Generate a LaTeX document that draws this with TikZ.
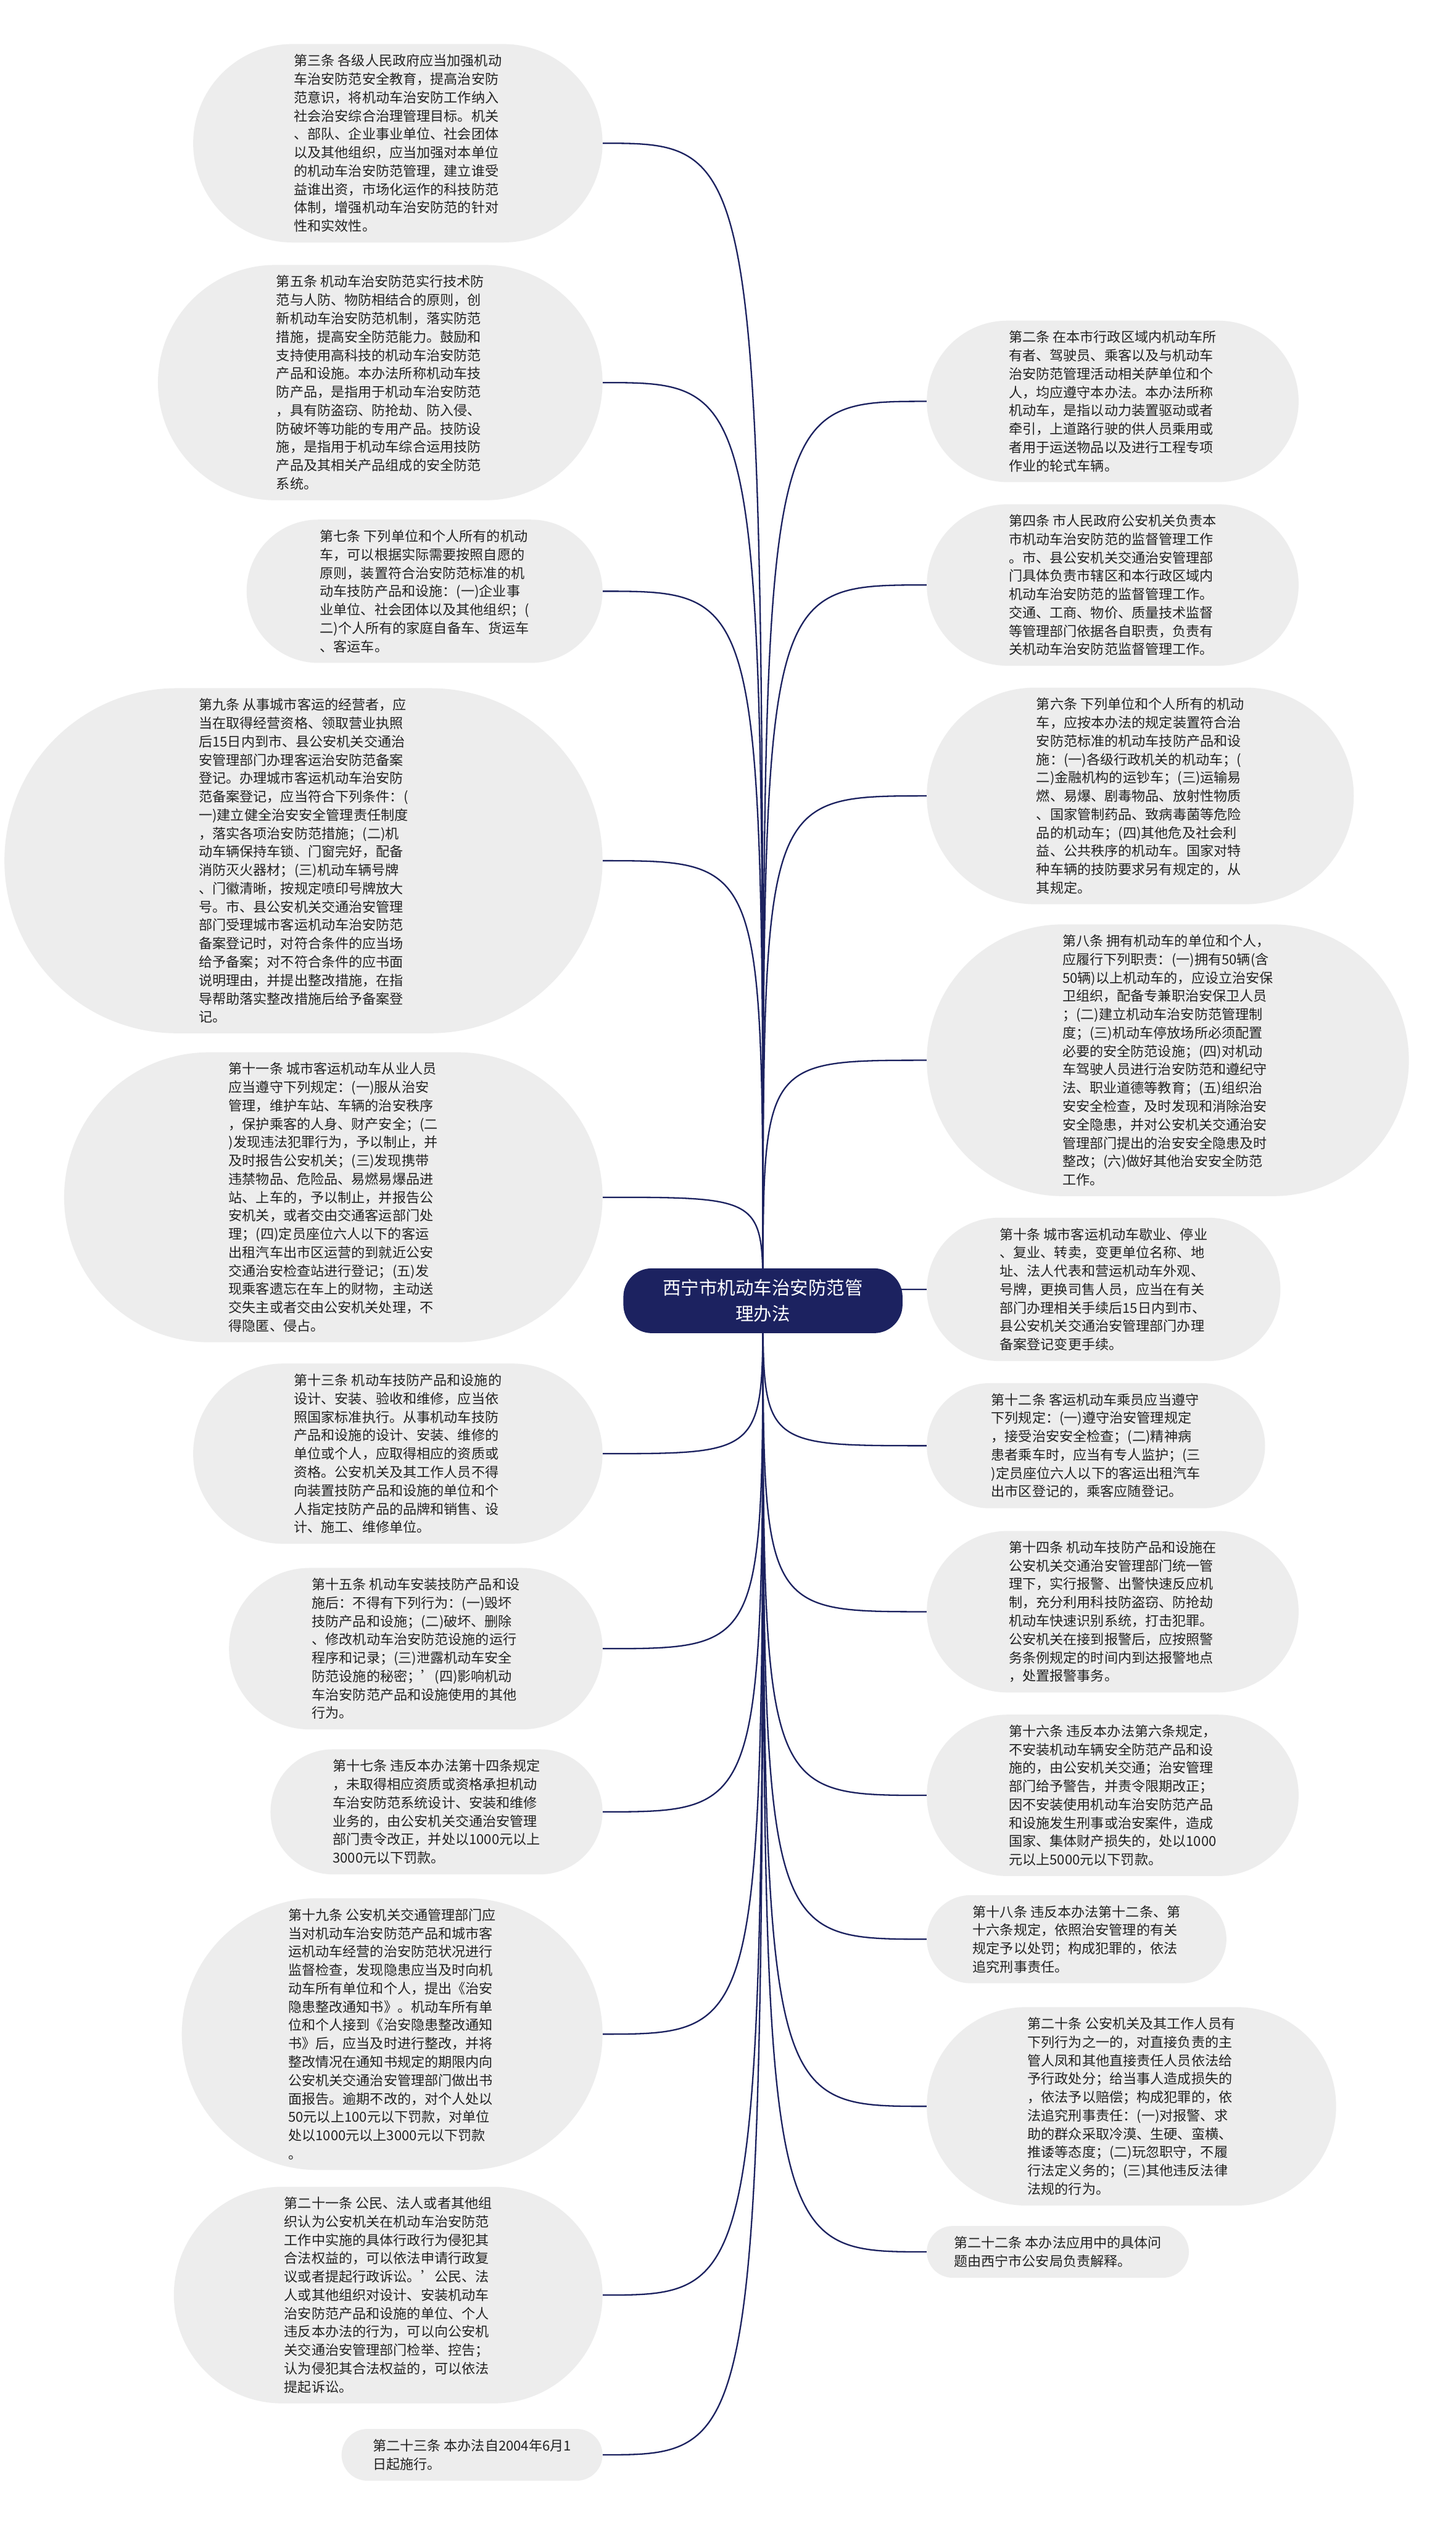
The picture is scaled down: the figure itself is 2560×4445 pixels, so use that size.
\documentclass[tikz,border=0pt]{standalone}
\usepackage{fontspec}
\usetikzlibrary{backgrounds}
\newfontfamily\zhfont{Noto Sans CJK SC}
\definecolor{rootblue}{HTML}{1C2260}
\definecolor{leafgray}{HTML}{EDEDED}
\definecolor{leaftext}{HTML}{222222}
\tikzset{
    node style root/.style={rectangle,rounded corners=50pt,fill=rootblue,text=white,align=center,
        minimum width=491pt,minimum height=114pt,font=\fontsize{32}{46}\selectfont\zhfont},
    node style leaf/.style 2 args={rectangle,fill=leafgray,text=leaftext,align=left,inner sep=0pt,
        minimum width=#1pt,minimum height=#2pt,rounded corners=#2pt/2,
        font=\fontsize{24}{32.3}\selectfont\zhfont},
    line style link/.style={draw=rootblue,line width=2.5pt},
}

\begin{document}
\begin{tikzpicture}[x=1pt,y=-1pt]
\useasboundingbox (0,0) rectangle (2560,4445);

\node[node style root] (measures) at (1342,2288) {西宁市机动车治安防范管\\理办法};

% left side
\node[node style leaf={720}{349},anchor=east] (art3) at (1060,252) {第三条 各级人民政府应当加强机动\\车治安防范安全教育，提高治安防\\范意识，将机动车治安防工作纳入\\社会治安综合治理管理目标。机关\\、部队、企业事业单位、社会团体\\以及其他组织，应当加强对本单位\\的机动车治安防范管理，建立谁受\\益谁出资，市场化运作的科技防范\\体制，增强机动车治安防范的针对\\性和实效性。};
\node[node style leaf={782}{414},anchor=east] (art5) at (1060,673) {第五条 机动车治安防范实行技术防\\范与人防、物防相结合的原则，创\\新机动车治安防范机制，落实防范\\措施，提高安全防范能力。鼓励和\\支持使用高科技的机动车治安防范\\产品和设施。本办法所称机动车技\\防产品，是指用于机动车治安防范\\，具有防盗窃、防抢劫、防入侵、\\防破坏等功能的专用产品。技防设\\施，是指用于机动车综合运用技防\\产品及其相关产品组成的安全防范\\系统。};
\node[node style leaf={626}{252},anchor=east] (art7) at (1060,1040) {第七条 下列单位和个人所有的机动\\车，可以根据实际需要按照自愿的\\原则，装置符合治安防范标准的机\\动车技防产品和设施：(一)企业事\\业单位、社会团体以及其他组织；(\\二)个人所有的家庭自备车、货运车\\、客运车。};
\node[node style leaf={1052}{607},anchor=east] (art9) at (1060,1514) {第九条 从事城市客运的经营者，应\\当在取得经营资格、领取营业执照\\后15日内到市、县公安机关交通治\\安管理部门办理客运治安防范备案\\登记。办理城市客运机动车治安防\\范备案登记，应当符合下列条件：(\\一)建立健全治安安全管理责任制度\\，落实各项治安防范措施；(二)机\\动车辆保持车锁、门窗完好，配备\\消防灭火器材；(三)机动车辆号牌\\、门徽清晰，按规定喷印号牌放大\\号。市、县公安机关交通治安管理\\部门受理城市客运机动车治安防范\\备案登记时，对符合条件的应当场\\给予备案；对不符合条件的应书面\\说明理由，并提出整改措施，在指\\导帮助落实整改措施后给予备案登\\记。};
\node[node style leaf={947}{510},anchor=east] (art11) at (1060,2106) {第十一条 城市客运机动车从业人员\\应当遵守下列规定：(一)服从治安\\管理，维护车站、车辆的治安秩序\\，保护乘客的人身、财产安全；(二\\)发现违法犯罪行为，予以制止，并\\及时报告公安机关；(三)发现携带\\违禁物品、危险品、易燃易爆品进\\站、上车的，予以制止，并报告公\\安机关，或者交由交通客运部门处\\理；(四)定员座位六人以下的客运\\出租汽车出市区运营的到就近公安\\交通治安检查站进行登记；(五)发\\现乘客遗忘在车上的财物，主动送\\交失主或者交由公安机关处理，不\\得隐匿、侵占。};
\node[node style leaf={720}{317},anchor=east] (art13) at (1060,2557) {第十三条 机动车技防产品和设施的\\设计、安装、验收和维修，应当依\\照国家标准执行。从事机动车技防\\产品和设施的设计、安装、维修的\\单位或个人，应取得相应的资质或\\资格。公安机关及其工作人员不得\\向装置技防产品和设施的单位和个\\人指定技防产品的品牌和销售、设\\计、施工、维修单位。};
\node[node style leaf={657}{284},anchor=east] (art15) at (1060,2900) {第十五条 机动车安装技防产品和设\\施后：不得有下列行为：(一)毁坏\\技防产品和设施；(二)破坏、删除\\、修改机动车治安防范设施的运行\\程序和记录；(三)泄露机动车安全\\防范设施的秘密；’(四)影响机动\\车治安防范产品和设施使用的其他\\行为。};
\node[node style leaf={584}{220},anchor=east] (art17) at (1060,3187) {第十七条 违反本办法第十四条规定\\，未取得相应资质或资格承担机动\\车治安防范系统设计、安装和维修\\业务的，由公安机关交通治安管理\\部门责令改正，并处以1000元以上\\3000元以下罚款。};
\node[node style leaf={740}{478},anchor=east] (art19) at (1060,3578) {第十九条 公安机关交通管理部门应\\当对机动车治安防范产品和城市客\\运机动车经营的治安防范状况进行\\监督检查，发现隐患应当及时向机\\动车所有单位和个人，提出《治安\\隐患整改通知书》。机动车所有单\\位和个人接到《治安隐患整改通知\\书》后，应当及时进行整改，并将\\整改情况在通知书规定的期限内向\\公安机关交通治安管理部门做出书\\面报告。逾期不改的，对个人处以\\50元以上100元以下罚款，对单位\\处以1000元以上3000元以下罚款\\。};
\node[node style leaf={754}{381},anchor=east] (art21) at (1060,4037) {第二十一条 公民、法人或者其他组\\织认为公安机关在机动车治安防范\\工作中实施的具体行政行为侵犯其\\合法权益的，可以依法申请行政复\\议或者提起行政诉讼。’公民、法\\人或其他组织对设计、安装机动车\\治安防范产品和设施的单位、个人\\违反本办法的行为，可以向公安机\\关交通治安管理部门检举、控告；\\认为侵犯其合法权益的，可以依法\\提起诉讼。};
\node[node style leaf={459}{91},anchor=east] (art23) at (1060,4318) {第二十三条 本办法自2004年6月1\\日起施行。};

% right side
\node[node style leaf={654}{284},anchor=west] (art2) at (1630,706) {第二条 在本市行政区域内机动车所\\有者、驾驶员、乘客以及与机动车\\治安防范管理活动相关萨单位和个\\人，均应遵守本办法。本办法所称\\机动车，是指以动力装置驱动或者\\牵引，上道路行驶的供人员乘用或\\者用于运送物品以及进行工程专项\\作业的轮式车辆。};
\node[node style leaf={654}{284},anchor=west] (art4) at (1630,1029) {第四条 市人民政府公安机关负责本\\市机动车治安防范的监督管理工作\\。市、县公安机关交通治安管理部\\门具体负责市辖区和本行政区域内\\机动车治安防范的监督管理工作。\\交通、工商、物价、质量技术监督\\等管理部门依据各自职责，负责有\\关机动车治安防范监督管理工作。};
\node[node style leaf={751}{381},anchor=west] (art6) at (1630,1400) {第六条 下列单位和个人所有的机动\\车，应按本办法的规定装置符合治\\安防范标准的机动车技防产品和设\\施：(一)各级行政机关的机动车；(\\二)金融机构的运钞车；(三)运输易\\燃、易爆、剧毒物品、放射性物质\\、国家管制药品、致病毒菌等危险\\品的机动车；(四)其他危及社会利\\益、公共秩序的机动车。国家对特\\种车辆的技防要求另有规定的，从\\其规定。};
\node[node style leaf={848}{478},anchor=west] (art8) at (1630,1865) {第八条 拥有机动车的单位和个人，\\应履行下列职责：(一)拥有50辆(含\\50辆)以上机动车的，应设立治安保\\卫组织，配备专兼职治安保卫人员\\；(二)建立机动车治安防范管理制\\度；(三)机动车停放场所必须配置\\必要的安全防范设施；(四)对机动\\车驾驶人员进行治安防范和遵纪守\\法、职业道德等教育；(五)组织治\\安安全检查，及时发现和消除治安\\安全隐患，并对公安机关交通治安\\管理部门提出的治安安全隐患及时\\整改；(六)做好其他治安安全防范\\工作。};
\node[node style leaf={622}{252},anchor=west] (art10) at (1630,2268) {第十条 城市客运机动车歇业、停业\\、复业、转卖，变更单位名称、地\\址、法人代表和营运机动车外观、\\号牌，更换司售人员，应当在有关\\部门办理相关手续后15日内到市、\\县公安机关交通治安管理部门办理\\备案登记变更手续。};
\node[node style leaf={595}{220},anchor=west] (art12) at (1630,2543) {第十二条 客运机动车乘员应当遵守\\下列规定：(一)遵守治安管理规定\\，接受治安安全检查；(二)精神病\\患者乘车时，应当有专人监护；(三\\)定员座位六人以下的客运出租汽车\\出市区登记的，乘客应随登记。};
\node[node style leaf={654}{284},anchor=west] (art14) at (1630,2835) {第十四条 机动车技防产品和设施在\\公安机关交通治安管理部门统一管\\理下，实行报警、出警快速反应机\\制，充分利用科技防盗窃、防抢劫\\机动车快速识别系统，打击犯罪。\\公安机关在接到报警后，应按照警\\务条例规定的时间内到达报警地点\\，处置报警事务。};
\node[node style leaf={654}{284},anchor=west] (art16) at (1630,3158) {第十六条 违反本办法第六条规定，\\不安装机动车辆安全防范产品和设\\施的，由公安机关交通；治安管理\\部门给予警告，并责令限期改正；\\因不安装使用机动车治安防范产品\\和设施发生刑事或治安案件，造成\\国家、集体财产损失的，处以1000\\元以上5000元以下罚款。};
\node[node style leaf={527}{155},anchor=west] (art18) at (1630,3411) {第十八条 违反本办法第十二条、第\\十六条规定，依照治安管理的有关\\规定予以处罚；构成犯罪的，依法\\追究刑事责任。};
\node[node style leaf={720}{349},anchor=west] (art20) at (1630,3705) {第二十条 公安机关及其工作人员有\\下列行为之一的，对直接负责的主\\管人凤和其他直接责任人员依法给\\予行政处分；给当事人造成损失的\\，依法予以赔偿；构成犯罪的，依\\法追究刑事责任：(一)对报警、求\\助的群众采取冷漠、生硬、蛮横、\\推诿等态度；(二)玩忽职守，不履\\行法定义务的；(三)其他违反法律\\法规的行为。};
\node[node style leaf={461}{91},anchor=west] (art22) at (1630,3961) {第二十二条 本办法应用中的具体问\\题由西宁市公安局负责解释。};

\begin{scope}[on background layer]
\fill[white] (0,0) rectangle (2560,4445);
\foreach \leaf in {art3,art5,art7,art9,art11,art13,art15,art17,art19,art21,art23}
    \draw[line style link] (measures.center) .. controls (measures.center |- \leaf.east) .. (\leaf.east);
\foreach \leaf in {art2,art4,art6,art8,art10,art12,art14,art16,art18,art20,art22}
    \draw[line style link] (measures.center) .. controls (measures.center |- \leaf.west) .. (\leaf.west);
\end{scope}

\end{tikzpicture}
\end{document}
